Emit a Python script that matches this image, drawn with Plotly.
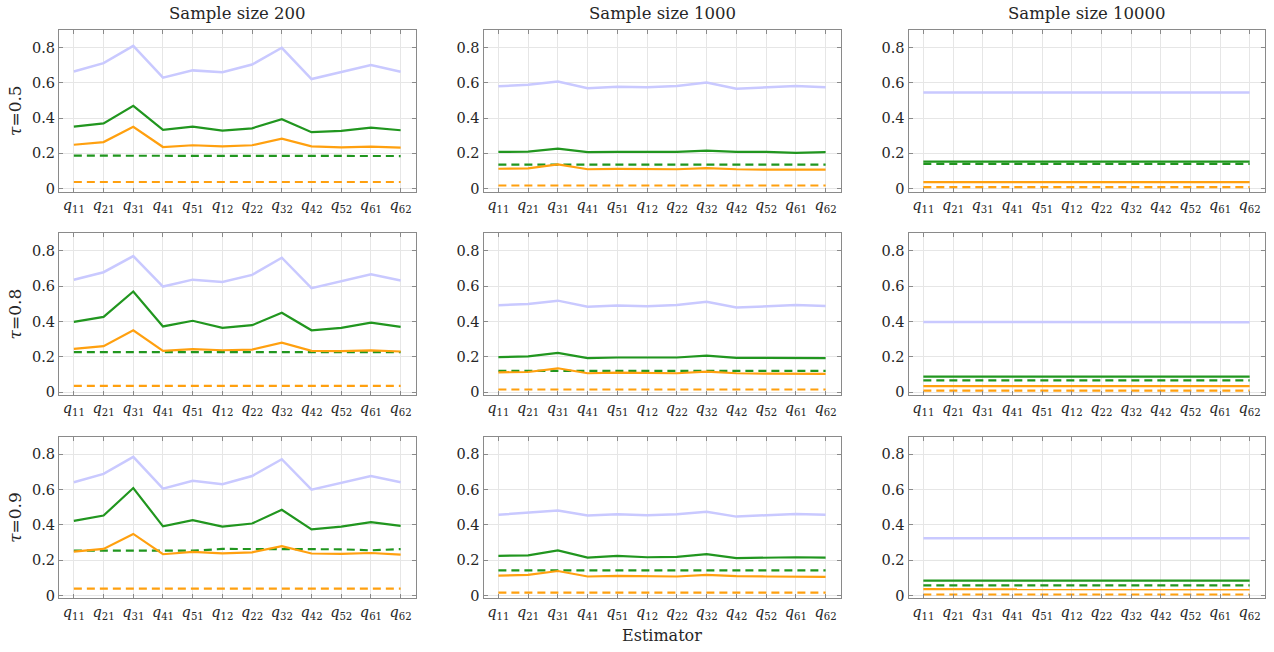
import plotly.graph_objects as go

# Estimators on the horizontal axis
estimators = ["11", "21", "31", "41", "51", "12", "22", "32", "42", "52", "61", "62"]
tick_labels = [f"<i>q</i><sub>{s}</sub>" for s in estimators]

sample_sizes = ["Sample size 200", "Sample size 1000", "Sample size 10000"]
taus = ["0.5", "0.8", "0.9"]
y_ticks = [0, 0.2, 0.4, 0.6, 0.8]
y_tick_text = ["0", "0.2", "0.4", "0.6", "0.8"]

# ---- tau = 0.5 ----
n200_t05_lav = [0.664, 0.711, 0.809, 0.629, 0.670, 0.659, 0.703, 0.798, 0.621, 0.660, 0.701, 0.662]
n200_t05_grn = [0.352, 0.370, 0.469, 0.333, 0.352, 0.329, 0.342, 0.394, 0.320, 0.327, 0.346, 0.331]
n200_t05_org = [0.249, 0.264, 0.350, 0.236, 0.246, 0.240, 0.246, 0.283, 0.240, 0.234, 0.238, 0.233]
n200_t05_grn_d = [0.187, 0.187, 0.186, 0.186, 0.186, 0.185, 0.185, 0.185, 0.185, 0.185, 0.186, 0.185]
n200_t05_org_d = [0.038, 0.038, 0.038, 0.038, 0.038, 0.038, 0.038, 0.038, 0.038, 0.038, 0.038, 0.038]

n1000_t05_lav = [0.580, 0.588, 0.607, 0.569, 0.577, 0.575, 0.582, 0.601, 0.566, 0.575, 0.582, 0.575]
n1000_t05_grn = [0.208, 0.210, 0.227, 0.207, 0.208, 0.208, 0.208, 0.216, 0.208, 0.208, 0.203, 0.207]
n1000_t05_org = [0.113, 0.115, 0.138, 0.110, 0.112, 0.110, 0.110, 0.117, 0.110, 0.108, 0.108, 0.108]
n1000_t05_grn_d = [0.136, 0.136, 0.136, 0.136, 0.136, 0.136, 0.136, 0.136, 0.136, 0.136, 0.136, 0.136]
n1000_t05_org_d = [0.018, 0.018, 0.018, 0.018, 0.018, 0.018, 0.018, 0.018, 0.018, 0.018, 0.018, 0.018]

n10000_t05_lav = [0.545, 0.546, 0.547, 0.545, 0.545, 0.545, 0.545, 0.546, 0.545, 0.545, 0.545, 0.545]
n10000_t05_grn = [0.153, 0.153, 0.153, 0.153, 0.153, 0.153, 0.153, 0.153, 0.153, 0.153, 0.153, 0.153]
n10000_t05_org = [0.037, 0.037, 0.038, 0.037, 0.037, 0.037, 0.037, 0.037, 0.037, 0.037, 0.037, 0.037]
n10000_t05_grn_d = [0.140, 0.140, 0.140, 0.140, 0.140, 0.140, 0.140, 0.140, 0.140, 0.140, 0.140, 0.140]
n10000_t05_org_d = [0.009, 0.009, 0.009, 0.009, 0.009, 0.009, 0.009, 0.009, 0.009, 0.009, 0.009, 0.009]

# ---- tau = 0.8 ----
n200_t08_lav = [0.636, 0.679, 0.770, 0.598, 0.637, 0.624, 0.664, 0.761, 0.589, 0.630, 0.667, 0.632]
n200_t08_grn = [0.398, 0.426, 0.570, 0.372, 0.404, 0.364, 0.379, 0.449, 0.350, 0.364, 0.393, 0.370]
n200_t08_org = [0.245, 0.260, 0.350, 0.234, 0.243, 0.237, 0.241, 0.280, 0.234, 0.232, 0.236, 0.230]
n200_t08_grn_d = [0.226, 0.226, 0.226, 0.226, 0.226, 0.226, 0.226, 0.226, 0.226, 0.226, 0.226, 0.226]
n200_t08_org_d = [0.035, 0.035, 0.035, 0.035, 0.035, 0.035, 0.035, 0.035, 0.035, 0.035, 0.035, 0.035]

n1000_t08_lav = [0.492, 0.499, 0.518, 0.484, 0.490, 0.486, 0.493, 0.512, 0.479, 0.486, 0.493, 0.488]
n1000_t08_grn = [0.198, 0.202, 0.222, 0.193, 0.196, 0.194, 0.196, 0.207, 0.194, 0.194, 0.194, 0.193]
n1000_t08_org = [0.112, 0.114, 0.135, 0.107, 0.110, 0.107, 0.107, 0.116, 0.107, 0.105, 0.105, 0.103]
n1000_t08_grn_d = [0.120, 0.120, 0.120, 0.120, 0.120, 0.120, 0.120, 0.120, 0.120, 0.120, 0.120, 0.120]
n1000_t08_org_d = [0.015, 0.015, 0.015, 0.015, 0.015, 0.015, 0.015, 0.015, 0.015, 0.015, 0.015, 0.015]

n10000_t08_lav = [0.397, 0.397, 0.397, 0.397, 0.397, 0.396, 0.396, 0.396, 0.396, 0.396, 0.396, 0.396]
n10000_t08_grn = [0.088, 0.088, 0.088, 0.088, 0.088, 0.088, 0.088, 0.088, 0.088, 0.088, 0.088, 0.088]
n10000_t08_org = [0.034, 0.034, 0.035, 0.034, 0.034, 0.034, 0.034, 0.034, 0.034, 0.034, 0.034, 0.034]
n10000_t08_grn_d = [0.066, 0.066, 0.066, 0.066, 0.066, 0.066, 0.066, 0.066, 0.066, 0.066, 0.066, 0.066]
n10000_t08_org_d = [0.008, 0.008, 0.008, 0.008, 0.008, 0.008, 0.008, 0.008, 0.008, 0.008, 0.008, 0.008]

# ---- tau = 0.9 ----
n200_t09_lav = [0.642, 0.689, 0.785, 0.605, 0.650, 0.631, 0.677, 0.772, 0.600, 0.640, 0.677, 0.642]
n200_t09_grn = [0.423, 0.453, 0.609, 0.392, 0.427, 0.390, 0.408, 0.486, 0.375, 0.390, 0.416, 0.395]
n200_t09_org = [0.249, 0.264, 0.349, 0.234, 0.247, 0.239, 0.245, 0.280, 0.238, 0.236, 0.241, 0.232]
n200_t09_grn_d = [0.254, 0.254, 0.254, 0.254, 0.254, 0.264, 0.264, 0.264, 0.264, 0.262, 0.256, 0.263]
n200_t09_org_d = [0.039, 0.039, 0.039, 0.039, 0.039, 0.039, 0.039, 0.039, 0.039, 0.039, 0.039, 0.039]

n1000_t09_lav = [0.458, 0.468, 0.481, 0.453, 0.460, 0.455, 0.460, 0.475, 0.447, 0.455, 0.462, 0.457]
n1000_t09_grn = [0.225, 0.228, 0.256, 0.215, 0.225, 0.217, 0.219, 0.234, 0.212, 0.215, 0.217, 0.215]
n1000_t09_org = [0.113, 0.117, 0.139, 0.108, 0.111, 0.108, 0.108, 0.117, 0.110, 0.108, 0.108, 0.106]
n1000_t09_grn_d = [0.143, 0.143, 0.143, 0.143, 0.143, 0.143, 0.143, 0.143, 0.143, 0.143, 0.143, 0.143]
n1000_t09_org_d = [0.017, 0.017, 0.017, 0.017, 0.017, 0.017, 0.017, 0.017, 0.017, 0.017, 0.017, 0.017]

n10000_t09_lav = [0.325, 0.325, 0.325, 0.325, 0.325, 0.325, 0.325, 0.325, 0.325, 0.325, 0.325, 0.325]
n10000_t09_grn = [0.084, 0.084, 0.084, 0.084, 0.084, 0.084, 0.084, 0.084, 0.084, 0.084, 0.084, 0.084]
n10000_t09_org = [0.036, 0.036, 0.037, 0.035, 0.035, 0.035, 0.035, 0.035, 0.035, 0.035, 0.035, 0.035]
n10000_t09_grn_d = [0.058, 0.058, 0.058, 0.058, 0.058, 0.058, 0.058, 0.058, 0.058, 0.058, 0.058, 0.058]
n10000_t09_org_d = [0.006, 0.006, 0.006, 0.006, 0.006, 0.006, 0.006, 0.006, 0.006, 0.006, 0.006, 0.006]

# panels[row][col] -> (lavender, green, orange, green dashed, orange dashed)
panels = [
    [
        (n200_t05_lav, n200_t05_grn, n200_t05_org, n200_t05_grn_d, n200_t05_org_d),
        (n1000_t05_lav, n1000_t05_grn, n1000_t05_org, n1000_t05_grn_d, n1000_t05_org_d),
        (n10000_t05_lav, n10000_t05_grn, n10000_t05_org, n10000_t05_grn_d, n10000_t05_org_d),
    ],
    [
        (n200_t08_lav, n200_t08_grn, n200_t08_org, n200_t08_grn_d, n200_t08_org_d),
        (n1000_t08_lav, n1000_t08_grn, n1000_t08_org, n1000_t08_grn_d, n1000_t08_org_d),
        (n10000_t08_lav, n10000_t08_grn, n10000_t08_org, n10000_t08_grn_d, n10000_t08_org_d),
    ],
    [
        (n200_t09_lav, n200_t09_grn, n200_t09_org, n200_t09_grn_d, n200_t09_org_d),
        (n1000_t09_lav, n1000_t09_grn, n1000_t09_org, n1000_t09_grn_d, n1000_t09_org_d),
        (n10000_t09_lav, n10000_t09_grn, n10000_t09_org, n10000_t09_grn_d, n10000_t09_org_d),
    ],
]

LAV = "#c9c9ff"
GRN = "#21961f"
ORG = "#ffa00f"
styles = [
    dict(color=LAV, width=2.5, dash="solid"),
    dict(color=GRN, width=2.2, dash="solid"),
    dict(color=ORG, width=2.2, dash="solid"),
    dict(color=GRN, width=2.2, dash="8px,5px"),
    dict(color=ORG, width=2.2, dash="8px,5px"),
]
draw_order = [0, 3, 4, 1, 2]

W, H = 1274, 652
col_px = [(59, 415.5), (483.5, 840.5), (908.5, 1264.5)]
row_px = [(30, 193), (235, 398), (440, 603)]

FONT = "DejaVu Serif"
FRAME = "#8a8a8a"
GRID = "#e6e6e6"
INK = "#262626"
TICK_SIZE = 14.5

fig = go.Figure()
layout = dict(
    width=W, height=H,
    margin=dict(l=0, r=0, t=0, b=0),
    paper_bgcolor="white", plot_bgcolor="white",
    showlegend=False,
    font=dict(family=FONT, size=TICK_SIZE, color=INK),
)

annotations = []
for r in range(3):
    for c in range(3):
        k = r * 3 + c + 1
        xa = "xaxis" if k == 1 else f"xaxis{k}"
        ya = "yaxis" if k == 1 else f"yaxis{k}"
        xref = "x" if k == 1 else f"x{k}"
        yref = "y" if k == 1 else f"y{k}"
        series = panels[r][c]
        for i in draw_order:
            fig.add_trace(go.Scatter(
                x=tick_labels, y=series[i], mode="lines",
                line=styles[i], xaxis=xref, yaxis=yref, hoverinfo="skip",
            ))
        x0, x1 = col_px[c]
        y0, y1 = row_px[r]
        layout[xa] = dict(
            domain=[x0 / W, x1 / W], anchor=yref,
            type="category", categoryorder="array", categoryarray=tick_labels,
            range=[-0.5, 11.5],
            showgrid=True, gridcolor=GRID, gridwidth=1,
            showline=True, linecolor=FRAME, linewidth=1, mirror="allticks",
            ticks="inside", ticklen=4, tickcolor=FRAME,
            tickfont=dict(family=FONT, size=TICK_SIZE, color=INK),
            zeroline=False,
        )
        layout[ya] = dict(
            domain=[1 - y1 / H, 1 - y0 / H], anchor=xref,
            range=[-0.016, 0.9],
            tickvals=y_ticks, ticktext=y_tick_text,
            showgrid=True, gridcolor=GRID, gridwidth=1,
            showline=True, linecolor=FRAME, linewidth=1, mirror="allticks",
            ticks="inside", ticklen=4, tickcolor=FRAME,
            tickfont=dict(family=FONT, size=TICK_SIZE, color=INK),
            zeroline=False,
        )
        if c == 0:
            layout[ya]["title"] = dict(
                text=f"<i>τ</i>=" + taus[r],
                font=dict(family=FONT, size=17, color=INK),
                standoff=6,
            )
        if r == 0:
            annotations.append(dict(
                text=sample_sizes[c], xref="paper", yref="paper",
                x=(x0 + x1) / 2 / W, y=1 - 14 / H,
                xanchor="center", yanchor="middle", showarrow=False,
                font=dict(family=FONT, size=16.5, color=INK),
            ))

annotations.append(dict(
    text="Estimator", xref="paper", yref="paper",
    x=(col_px[1][0] + col_px[1][1]) / 2 / W, y=1 - 640 / H,
    xanchor="center", yanchor="middle", showarrow=False,
    font=dict(family=FONT, size=16, color=INK),
))
layout["annotations"] = annotations

fig.update_layout(**layout)
fig.write_html("out.html")
